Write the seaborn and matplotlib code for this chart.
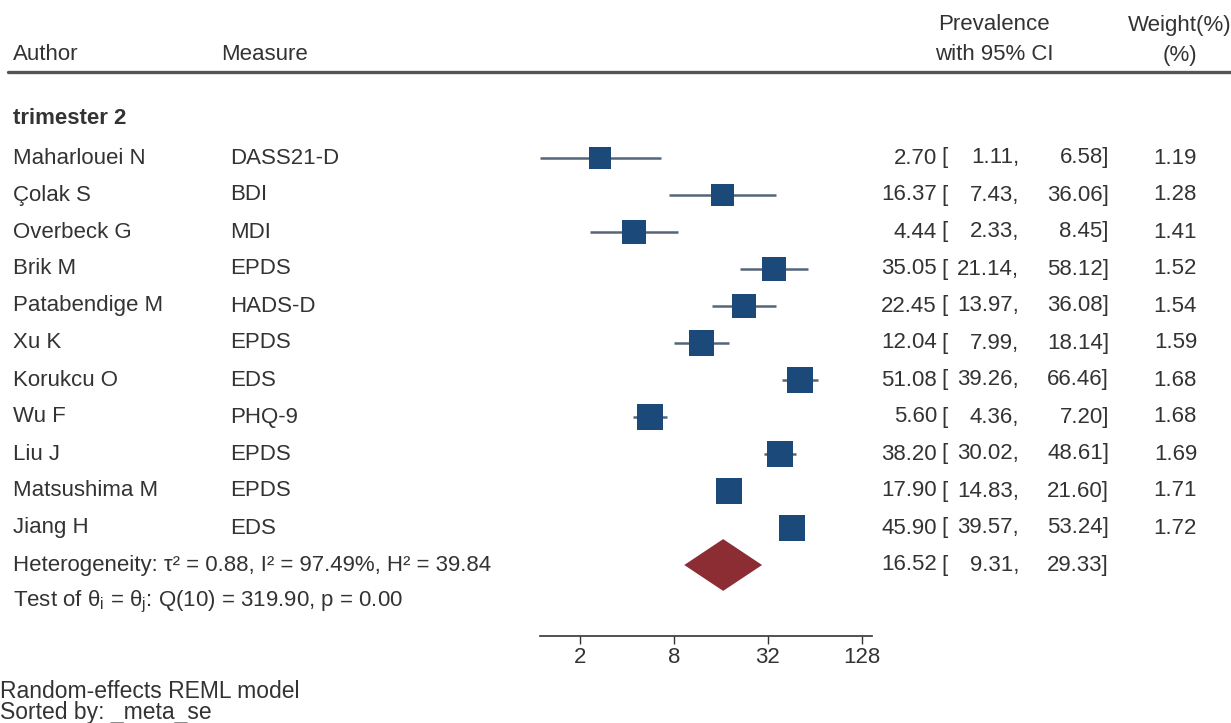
import numpy as np
import pandas as pd
import seaborn as sns
import matplotlib.pyplot as plt
import matplotlib.transforms as mtransforms
from matplotlib.lines import Line2D

sns.set_theme(style="white")
plt.rcParams["font.family"] = ["Liberation Sans", "DejaVu Sans"]
plt.rcParams["mathtext.fontset"] = "custom"
plt.rcParams["mathtext.rm"] = "Liberation Sans"
plt.rcParams["mathtext.it"] = "Liberation Sans"

# ---- study data (trimester 2) ----
authors = ["Maharlouei N", "Çolak S", "Overbeck G", "Brik M", "Patabendige M",
           "Xu K", "Korukcu O", "Wu F", "Liu J", "Matsushima M", "Jiang H"]
measures = ["DASS21-D", "BDI", "MDI", "EPDS", "HADS-D",
            "EPDS", "EDS", "PHQ-9", "EPDS", "EPDS", "EDS"]
prevalence = [2.70, 16.37, 4.44, 35.05, 22.45, 12.04, 51.08, 5.60, 38.20, 17.90, 45.90]
ci_low = [1.11, 7.43, 2.33, 21.14, 13.97, 7.99, 39.26, 4.36, 30.02, 14.83, 39.57]
ci_high = [6.58, 36.06, 8.45, 58.12, 36.08, 18.14, 66.46, 7.20, 48.61, 21.60, 53.24]
weights = [1.19, 1.28, 1.41, 1.52, 1.54, 1.59, 1.68, 1.68, 1.69, 1.71, 1.72]

# pooled random-effects estimate
pooled = 16.52
pooled_low = 9.31
pooled_high = 29.33
heterogeneity = "Heterogeneity: τ² = 0.88, I² = 97.49%, H² = 39.84"
q_test = r"Test of θ$_{i}$ = θ$_{j}$: Q(10) = 319.90, p = 0.00"

tick_values = [2, 8, 32, 128]

# ---- figure layout (pixel helpers) ----
W, H = 1231, 723
fig = plt.figure(figsize=(W / 100, H / 100), dpi=100)

ROW0, ROWSTEP = 158, 37.0  # pixel y of first study row and row spacing
AX_LEFT, AX_RIGHT = 540, 872
AX_BOTTOM, AX_TOP = 636, 90


def row_of(py):
    return (py - ROW0) / ROWSTEP


def fx(px):
    return px / W


def fy(py):
    return 1 - py / H


ax = fig.add_axes([fx(AX_LEFT), fy(AX_BOTTOM), fx(AX_RIGHT) - fx(AX_LEFT),
                   fy(AX_TOP) - fy(AX_BOTTOM)])
ax.set_xscale("log", base=2)
ax.set_xlim(1.109, 148.4)
ax.set_ylim(row_of(AX_BOTTOM), row_of(AX_TOP))
ax.patch.set_alpha(0)

df = pd.DataFrame({
    "author": authors, "measure": measures, "prev": prevalence,
    "lo": ci_low, "hi": ci_high, "weight": weights,
})
df["row"] = np.arange(len(df))

square_color = "#1b4a7a"
line_color = "#55657a"
text_color = "#333333"

# confidence intervals
ax.hlines(df["row"], df["lo"], df["hi"], color=line_color, lw=1.8, zorder=2)
# study squares, area proportional to weight
k = 205
sns.scatterplot(data=df, x="prev", y="row", size="weight", marker="s",
                sizes=(min(weights) * k, max(weights) * k),
                size_norm=(min(weights), max(weights)),
                color=square_color, edgecolor="none", linewidth=0,
                legend=False, ax=ax, zorder=3)

# pooled diamond
prow = len(df)
half_h = 0.70
ax.fill([pooled_low, pooled, pooled_high, pooled],
        [prow, prow - half_h, prow, prow + half_h],
        color="#8c2d33", lw=0, zorder=3)

# axis styling
fs = 16
for side in ["left", "right", "top"]:
    ax.spines[side].set_visible(False)
ax.spines["bottom"].set_color("#333333")
ax.spines["bottom"].set_linewidth(1.2)
ax.set_yticks([])
ax.set_xticks(tick_values)
ax.set_xticklabels([str(v) for v in tick_values])
ax.xaxis.set_minor_locator(plt.NullLocator())
ax.tick_params(axis="x", direction="out", length=6, width=1, color="#333333",
               labelsize=fs, labelcolor=text_color, pad=2, bottom=True)
ax.set_xlabel("")
ax.set_ylabel("")
ax.grid(False)

# ---- text columns ----
trans = mtransforms.blended_transform_factory(fig.transFigure, ax.transData)
kw = dict(transform=trans, fontsize=fs, color=text_color, va="center", clip_on=False)

for _, r in df.iterrows():
    y = r["row"]
    ax.text(fx(13), y, r["author"], ha="left", **kw)
    ax.text(fx(230), y, r["measure"], ha="left", **kw)
    ax.text(fx(937), y, f"{r['prev']:.2f}", ha="right", **kw)
    ax.text(fx(941), y, "[", ha="left", **kw)
    ax.text(fx(1019), y, f"{r['lo']:.2f},", ha="right", **kw)
    ax.text(fx(1109), y, f"{r['hi']:.2f}]", ha="right", **kw)
    ax.text(fx(1197), y, f"{r['weight']:.2f}", ha="right", **kw)

# pooled row
ax.text(fx(13), prow, heterogeneity, ha="left", **kw)
ax.text(fx(937), prow, f"{pooled:.2f}", ha="right", **kw)
ax.text(fx(941), prow, "[", ha="left", **kw)
ax.text(fx(1019), prow, f"{pooled_low:.2f},", ha="right", **kw)
ax.text(fx(1109), prow, f"{pooled_high:.2f}]", ha="right", **kw)
ax.text(fx(13), prow + 1, q_test, ha="left", **kw)

# group heading
ax.text(fx(13), row_of(119), "trimester 2", ha="left", fontweight="bold", **kw)

# ---- column headers ----
hkw = dict(fontsize=fs, color=text_color, va="center")
fig.text(fx(13), fy(55), "Author", ha="left", **hkw)
fig.text(fx(221), fy(55), "Measure", ha="left", **hkw)
fig.text(fx(994), fy(25), "Prevalence", ha="center", **hkw)
fig.text(fx(994), fy(55), "with 95% CI", ha="center", **hkw)
fig.text(fx(1180), fy(25), "Weight(%)", ha="center", **hkw)
fig.text(fx(1180), fy(55), "(%)", ha="center", **hkw)
fig.add_artist(Line2D([fx(8), fx(1231)], [fy(72), fy(72)], transform=fig.transFigure,
                      color="#555555", lw=2.4))

# ---- footer notes ----
fkw = dict(fontsize=16.5, color=text_color, va="center")
fig.text(fx(0), fy(692), "Random-effects REML model", ha="left", **fkw)
fig.text(fx(0), fy(713), "Sorted by: _meta_se", ha="left", **fkw)

fig.savefig("out.png", dpi=100)
